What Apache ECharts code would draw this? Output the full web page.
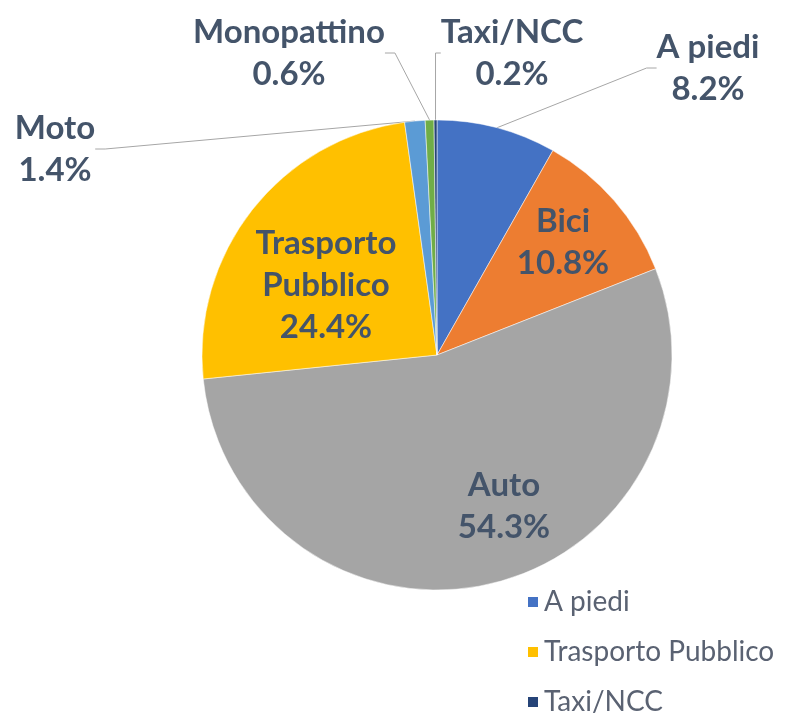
<!DOCTYPE html>
<html>
<head>
<meta charset="utf-8">
<script src="https://cdn.jsdelivr.net/npm/echarts@6/dist/echarts.min.js"></script>
<style>
  html, body { margin: 0; padding: 0; background: #fff; }
  #chart { width: 802px; height: 722px; }
</style>
</head>
<body>
<div id="chart"></div>
<script>
// modal split, percent
const categories = ['A piedi', 'Bici', 'Auto', 'Trasporto Pubblico', 'Moto', 'Monopattino', 'Taxi/NCC']
const shares = [8.2, 10.8, 54.3, 24.4, 1.4, 0.6, 0.2]
const legendItems = ['A piedi', 'Trasporto Pubblico', 'Taxi/NCC']

const colors = ['#4472C4', '#ED7D31', '#A5A5A5', '#FFC000', '#5B9BD5', '#70AD47', '#264478']
const insideLabels = ['Bici', 'Auto', 'Trasporto Pubblico']

// where the text blocks sit (centre of block)
const labelPos = {
    'A piedi': [708, 68],
    'Bici': [563, 242],
    'Auto': [504, 506],
    'Trasporto Pubblico': [326, 285],
    'Moto': [55, 149],
    'Monopattino': [289, 53],
    'Taxi/NCC': [512, 53]
}

const seriesData = categories.map((name, i) => {
    const inside = insideLabels.indexOf(name) >= 0
    return {
        name: name,
        value: shares[i],
        itemStyle: { color: colors[i] },
        labelLine: { show: !inside }
    }
})

const chart = echarts.init(document.getElementById('chart'))
chart.setOption({
    animation: false,
    legend: {
        data: legendItems,
        orient: 'vertical',
        left: 526,
        top: 588,
        height: 200,
        padding: 0,
        itemWidth: 12,
        itemHeight: 12,
        itemGap: 22,
        icon: 'rect',
        textStyle: {
            fontFamily: 'Lato',
            fontSize: 28,
            color: '#5A6272'
        }
    },
    series: [
        {
            type: 'pie',
            center: [437, 355],
            radius: [0, 235],
            startAngle: 90,
            clockwise: true,
            avoidLabelOverlap: false,
            itemStyle: {
                borderColor: '#ffffff',
                borderWidth: 0.5
            },
            label: {
                show: true,
                position: 'outside',
                fontFamily: 'Lato',
                fontWeight: 'bold',
                fontSize: 33,
                lineHeight: 42,
                color: '#44546A',
                formatter: p => {
                    const name = p.name === 'Trasporto Pubblico' ? 'Trasporto\nPubblico' : p.name
                    return name + '\n' + p.value.toFixed(1) + '%'
                }
            },
            labelLine: {
                show: true,
                length: 10,
                length2: 10,
                lineStyle: { color: '#A6A6A6', width: 1 }
            },
            labelLayout: params => {
                const p = labelPos[categories[params.dataIndex]]
                return { x: p[0], y: p[1], align: 'center', verticalAlign: 'middle' }
            },
            data: seriesData
        }
    ]
})
</script>
</body>
</html>
